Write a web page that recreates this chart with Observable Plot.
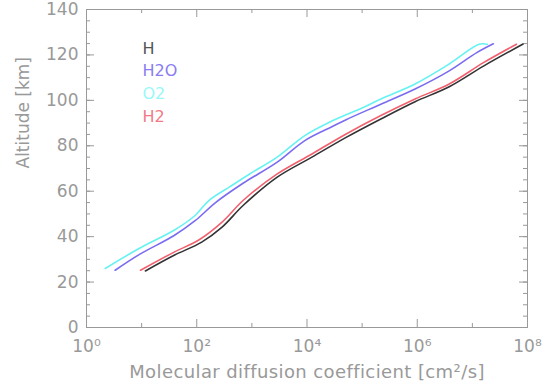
<!DOCTYPE html>
<html>
<head>
<meta charset="utf-8">
<script src="https://cdn.jsdelivr.net/npm/d3@7"></script>
<script src="https://cdn.jsdelivr.net/npm/@observablehq/plot@0.6"></script>
<style>
  html, body { margin: 0; padding: 0; background: #fff; }
  #chart svg { font-family: "DejaVu Sans", sans-serif; }
</style>
</head>
<body>
<div id="chart"></div>
<script>
// Series: altitude (km) and molecular diffusion coefficient (cm^2/s)
const altH   = [24.9, 31.8, 37.6, 44.2, 53.7, 66.2, 75.0, 83.7, 91.8, 99.4, 106.0, 115.2, 124.8];
const dH     = [11.7, 38.9, 123, 288, 692, 2884, 12300, 51300, 2.188e5, 9.12e5, 3.8e6, 1.62e7, 8.32e7];

const altH2O = [25.2, 32.3, 40.5, 47.0, 55.0, 63.5, 72.8, 82.3, 88.5, 91.5, 98.3, 105.0, 113.0, 121.0, 124.9];
const dH2O   = [3.31, 9.33, 38.9, 93.3, 219, 692, 2884, 9120, 28840, 51300, 2.188e5, 9.12e5, 3.8e6, 1.2e7, 2.4e7];

const altO2  = [26.0, 35.0, 42.8, 49.3, 55.9, 61.8, 67.6, 75.0, 84.5, 91.0, 96.9, 100.6, 107.2, 116.0, 124.7, 124.7];
const dO2    = [2.19, 9.33, 38.9, 93.3, 166, 389, 912, 2884, 9120, 28840, 1.047e5, 2.188e5, 9.12e5, 3.8e6, 1.32e7, 1.86e7];

const altH2  = [25.2, 33.2, 38.4, 46.4, 55.9, 67.6, 76.4, 85.2, 93.3, 100.6, 107.2, 116.7, 124.7];
const dH2    = [9.55, 38.9, 107, 288, 692, 2884, 12300, 51300, 2.188e5, 9.12e5, 3.8e6, 1.62e7, 6.31e7];

const seriesNames  = ["H", "H2O", "O2", "H2"];
const lineColors   = ["#333333", "#7a6cf0", "#66f2f2", "#f2606e"];
const labelColors  = ["#555555", "#8a7cf0", "#99f8f8", "#f27a86"];

const yMajor = [0, 20, 40, 60, 80, 100, 120, 140];
const yMinor = d3.range(0, 141, 5);
const xMajor = [1, 1e2, 1e4, 1e6, 1e8];
const xMinor = [1e1, 1e3, 1e5, 1e7];
const xTickLabels = ["10⁰", "10²", "10⁴", "10⁶", "10⁸"];
const xTitle = "Molecular diffusion coefficient [cm²/s]";
const yTitle = "Altitude [km]";

const toRows = (alts, ds, name) => alts.map((a, i) => ({alt: a, d: ds[i], name}));
const rows = [
  ...toRows(altH, dH, "H"),
  ...toRows(altH2O, dH2O, "H2O"),
  ...toRows(altO2, dO2, "O2"),
  ...toRows(altH2, dH2, "H2")
];

const gray = "#999";
const W = 550, H = 390;
const ML = 86, MR = 23, MT = 9, MB = 63;
const PW = W - ML - MR, PH = H - MT - MB;

const legendMarks = seriesNames.map((s, i) =>
  Plot.text([s], {
    text: d => d, frameAnchor: "top-left", dx: 56, dy: 39 + i * 22.7,
    textAnchor: "start", lineAnchor: "middle", fill: labelColors[i], fontSize: 16
  })
);

// inward ticks on all four sides
const tickMarks = [
  Plot.tickY(yMinor, {y: d => d, insetRight: PW - 4, stroke: gray}),
  Plot.tickY(yMinor, {y: d => d, insetLeft: PW - 4, stroke: gray}),
  Plot.tickY(yMajor, {y: d => d, insetRight: PW - 8, stroke: gray}),
  Plot.tickY(yMajor, {y: d => d, insetLeft: PW - 8, stroke: gray}),
  Plot.tickX(xMinor, {x: d => d, insetTop: PH - 4, stroke: gray}),
  Plot.tickX(xMinor, {x: d => d, insetBottom: PH - 4, stroke: gray}),
  Plot.tickX(xMajor, {x: d => d, insetTop: PH - 8, stroke: gray}),
  Plot.tickX(xMajor, {x: d => d, insetBottom: PH - 8, stroke: gray})
];

const chart = Plot.plot({
  width: W,
  height: H,
  marginLeft: ML, marginRight: MR, marginTop: MT, marginBottom: MB,
  style: {fontFamily: "DejaVu Sans, sans-serif", background: "#fff", color: gray},
  x: {type: "log", domain: [1, 1e8]},
  y: {domain: [0, 140]},
  color: {domain: seriesNames, range: lineColors},
  marks: [
    ...tickMarks,
    Plot.axisY({ticks: yMajor, anchor: "left", tickSize: 0, tickPadding: 8, fontSize: 17, fill: gray, label: null}),
    Plot.axisX({ticks: xMajor, anchor: "bottom", tickSize: 0, tickPadding: 12, fontSize: 17, fill: gray,
      tickFormat: d => xTickLabels[xMajor.indexOf(d)], label: null}),
    Plot.frame({stroke: gray, strokeWidth: 1}),
    Plot.line(rows, {x: "d", y: "alt", z: "name", stroke: "name", strokeWidth: 1.6, curve: "catmull-rom"}),
    ...legendMarks,
    // axis titles
    Plot.text([yTitle], {text: d => d, frameAnchor: "left", dx: -63, rotate: -90,
      fill: gray, fontSize: 17, lineAnchor: "middle"}),
    Plot.text([xTitle], {text: d => d, frameAnchor: "bottom", dy: 45,
      fill: gray, fontSize: 18, lineAnchor: "middle"})
  ]
});

// slightly widen the x-axis title like the original lettering
d3.select(chart).selectAll("text").filter(function() { return this.textContent === xTitle; })
  .style("letter-spacing", "0.4px");

document.getElementById("chart").appendChild(chart);
</script>
</body>
</html>
